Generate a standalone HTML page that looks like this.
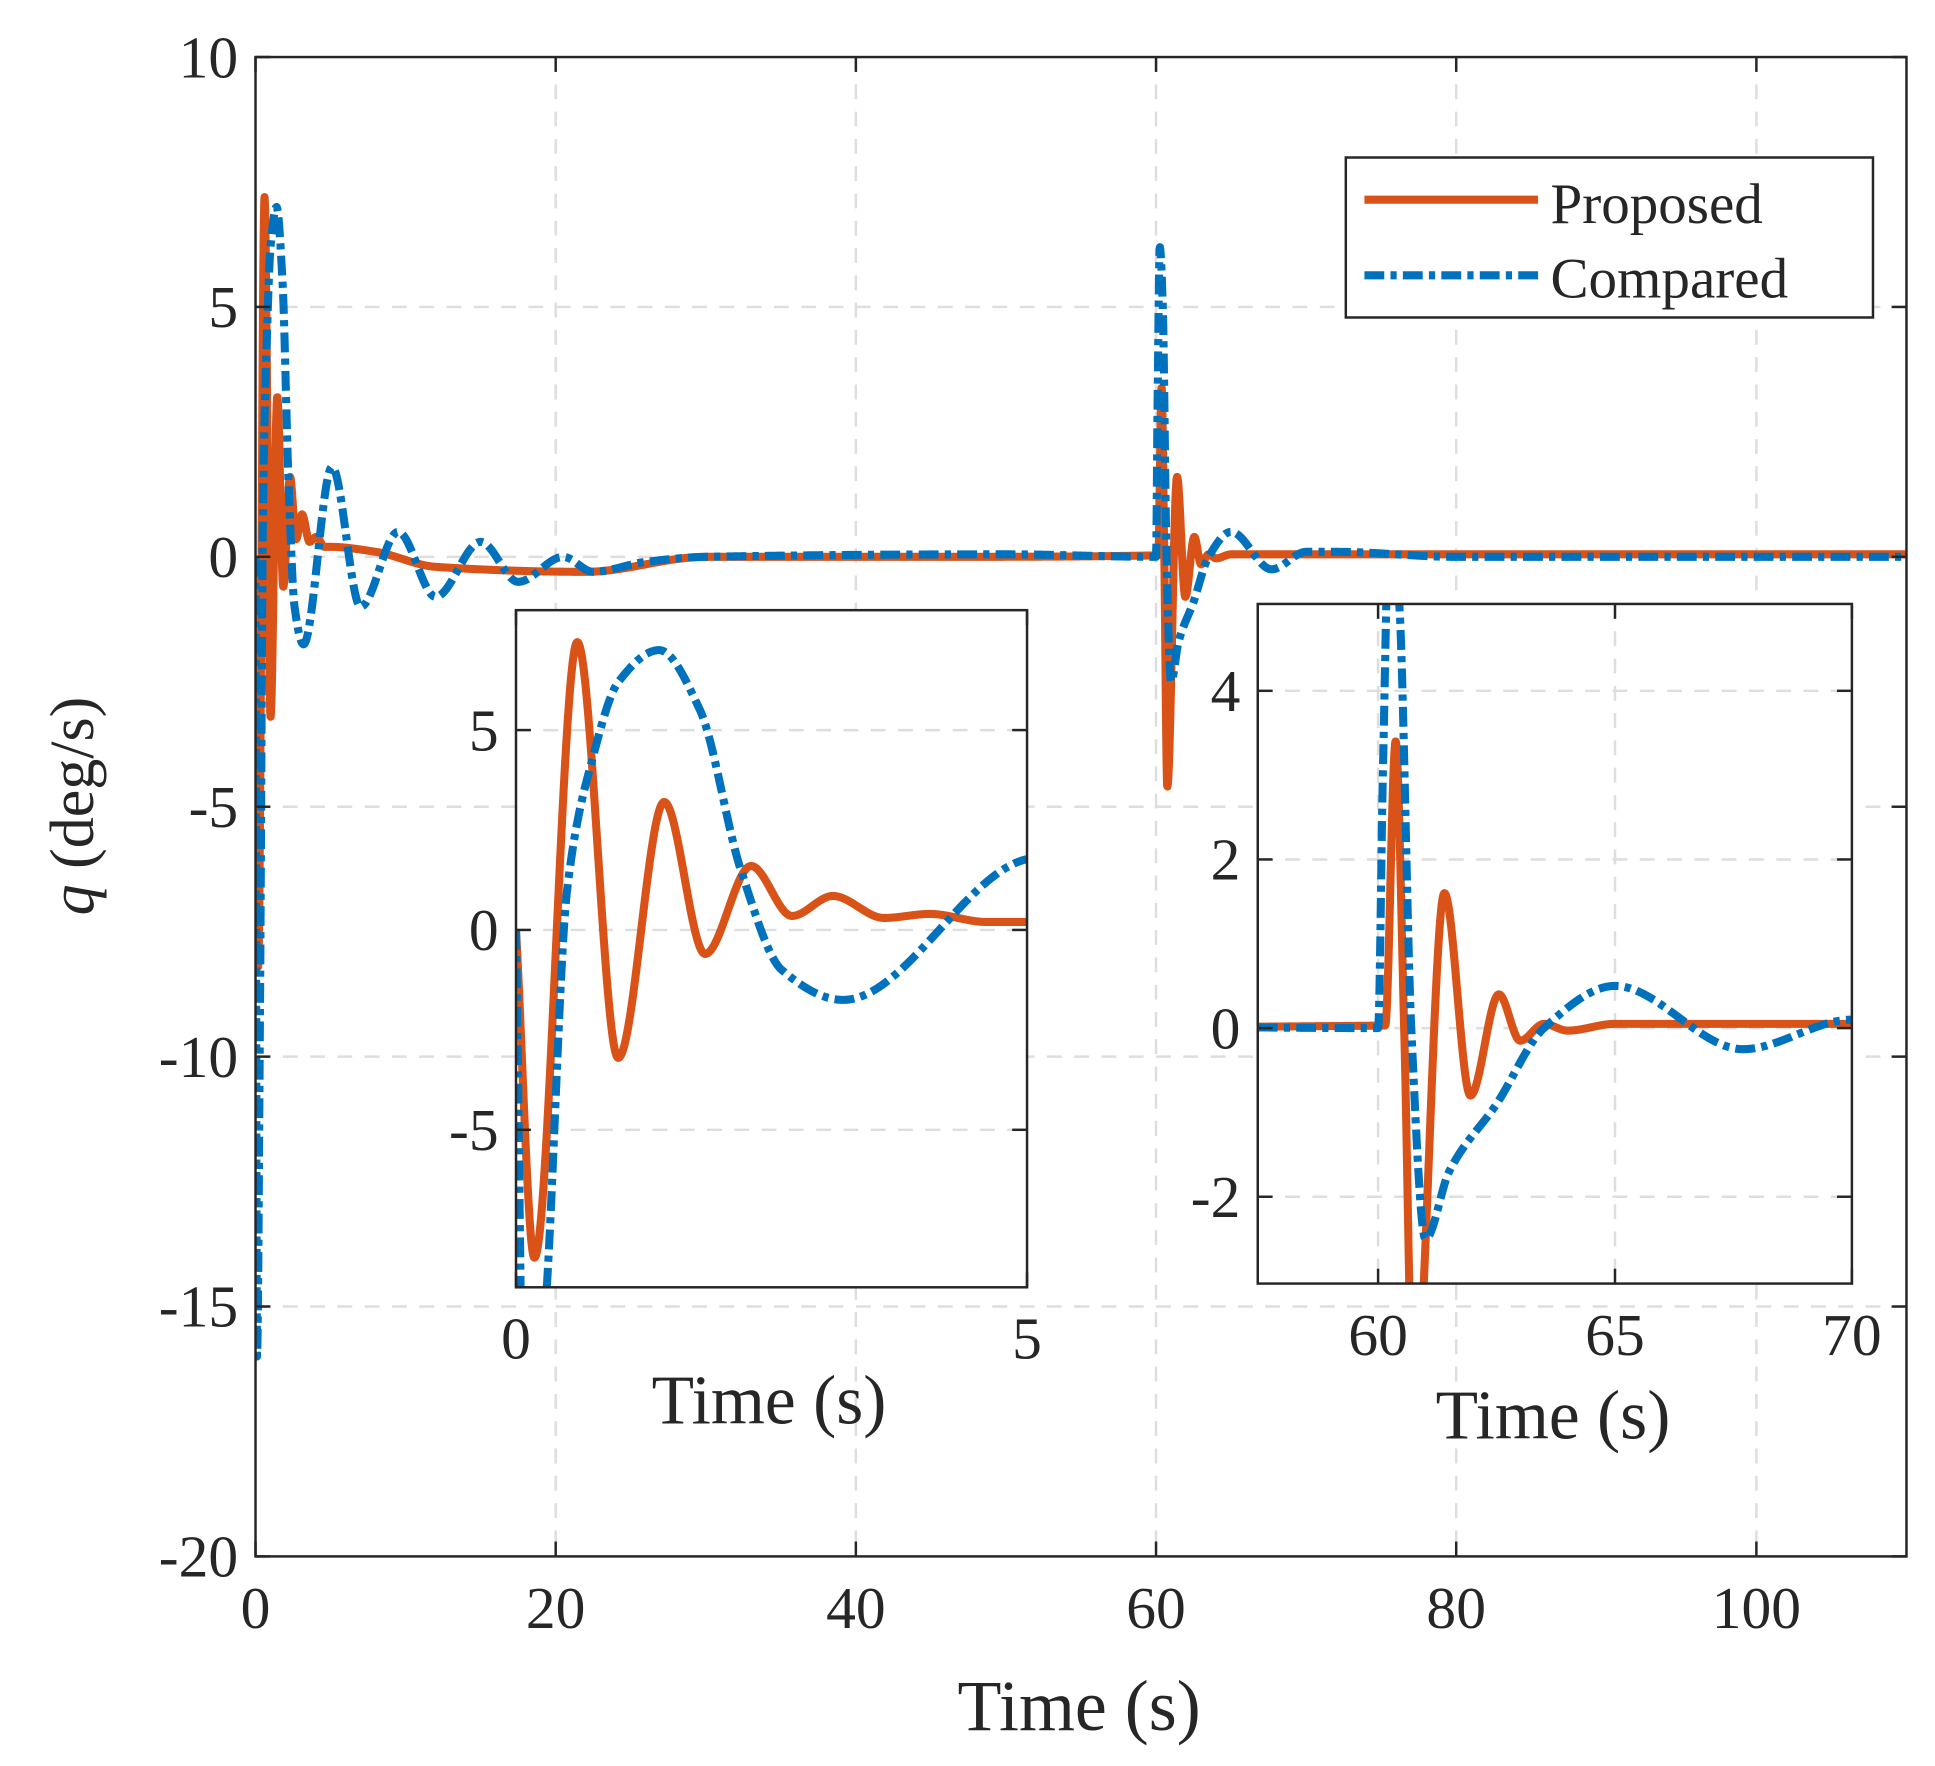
<!DOCTYPE html>
<html><head><meta charset="utf-8">
<style>html,body{margin:0;padding:0;background:#fff}svg{display:block}
text{font-family:"Liberation Serif",serif;fill:#262626}</style></head>
<body>
<svg id="s" width="1935" height="1766" viewBox="0 0 1560 1424" preserveAspectRatio="none" xmlns="http://www.w3.org/2000/svg">
<defs>
<clipPath id="c0"><rect x="206" y="46" width="1331" height="1209"/></clipPath>
<clipPath id="c1"><rect x="416" y="492" width="412" height="546"/></clipPath>
<clipPath id="c2"><rect x="1014" y="487" width="479" height="548"/></clipPath>
</defs>
<rect x="0" y="0" width="1560" height="1424" fill="#fff"/>
<g id="main"></g>
<g id="in1"></g>
<g id="in2"></g>
<!-- legend -->
<rect x="1085" y="127" width="425" height="129" fill="#fff" stroke="#262626" stroke-width="2"/>
<line x1="1100" y1="161" x2="1240" y2="161" stroke="#D95319" stroke-width="6.5"/>
<line x1="1100" y1="222" x2="1240" y2="222" stroke="#0072BD" stroke-width="6.5" stroke-dasharray="16 5 5 5"/>
<text x="1250" y="180" font-size="46">Proposed</text>
<text x="1250" y="240" font-size="46">Compared</text>
<!-- labels -->
<text x="870" y="1395" font-size="58" text-anchor="middle">Time (s)</text>
<text transform="translate(75,650) rotate(-90)" font-size="50" text-anchor="middle"><tspan font-style="italic">q</tspan> (deg/s)</text>
<text x="620" y="1148" font-size="56" text-anchor="middle">Time (s)</text>
<text x="1252" y="1160" font-size="56" text-anchor="middle">Time (s)</text>
</svg>
<script>
function mono(P){var n=P.length,xs=P.map(p=>p[0]),ys=P.map(p=>p[1]),d=[],m=[];
for(var i=0;i<n-1;i++)d.push((ys[i+1]-ys[i])/(xs[i+1]-xs[i]));
m[0]=d[0];m[n-1]=d[n-2];
for(i=1;i<n-1;i++){if(d[i-1]*d[i]<=0)m[i]=0;else{var h0=xs[i]-xs[i-1],h1=xs[i+1]-xs[i];m[i]=3*(h0+h1)/((2*h1+h0)/d[i-1]+(h1+2*h0)/d[i]);}}
return function(t){if(t<=xs[0])return ys[0];if(t>=xs[n-1])return ys[n-1];
var k=0;while(xs[k+1]<t)k++;var h=xs[k+1]-xs[k],s=(t-xs[k])/h,s2=s*s,s3=s2*s;
return (2*s3-3*s2+1)*ys[k]+(s3-2*s2+s)*h*m[k]+(-2*s3+3*s2)*ys[k+1]+(s3-s2)*h*m[k+1];}}
var O=mono([[0,0],[0.18,-8.2],[0.6,7.2],[1.0,-3.2],[1.45,3.2],[1.85,-0.6],[2.3,1.6],[2.7,0.35],[3.1,0.85],[3.6,0.3],[4.05,0.4],[4.6,0.2],[5,0.2],[8,0.1],[12,-0.2],[22,-0.3],[30,0],[45,0],[60.15,0.03],[60.37,3.4],[60.55,0],[60.75,-4.6],[61.4,1.6],[61.95,-0.8],[62.55,0.4],[63.0,-0.15],[63.5,0.05],[64,-0.03],[65,0.05],[80,0.05],[110,0.05]]);
var B=mono([[0,0],[0.1,-16],[0.3,-9],[0.5,1],[0.75,4.3],[1.0,6.2],[1.4,7.0],[1.8,5.5],[2.2,1.5],[2.6,-1.0],[3.2,-1.75],[5.1,1.8],[7,-1.0],[9.5,0.5],[12,-0.8],[15,0.3],[17.5,-0.5],[20.5,0.0],[22.5,-0.3],[26,-0.1],[30,0],[50,0.05],[60,0.0],[60.1,3],[60.25,6.2],[60.45,5],[60.7,0],[61.0,-2.5],[61.5,-1.7],[62.5,-0.9],[63.5,0],[65,0.5],[67.7,-0.25],[70,0.1],[72,0.1],[80,0],[110,0]]);
var NS="http://www.w3.org/2000/svg";
function el(g,tag,a,txt){var e=document.createElementNS(NS,tag);for(var k in a)e.setAttribute(k,a[k]);if(txt!==undefined)e.textContent=txt;g.appendChild(e);return e;}
function axes(id,c,X0,X1,Y0,Y1,px0,px1,py0,py1,xt,yt,fs,step){
 var g=document.getElementById(id);
 var fx=t=>px0+(t-X0)/(X1-X0)*(px1-px0), fy=v=>py1-(v-Y0)/(Y1-Y0)*(py1-py0);
 el(g,'rect',{x:px0,y:py0,width:px1-px0,height:py1-py0,fill:'#fff'});
 xt.forEach(t=>{var x=fx(t);if(x>px0+2&&x<px1-2)el(g,'line',{x1:x,y1:py0,x2:x,y2:py1,stroke:'#dedede','stroke-width':2,'stroke-dasharray':'12 10'});});
 yt.forEach(v=>{var y=fy(v);if(y>py0+2&&y<py1-2)el(g,'line',{x1:px0,y1:y,x2:px1,y2:y,stroke:'#dedede','stroke-width':2,'stroke-dasharray':'12 10'});});
 [[O,'#D95319',null],[B,'#0072BD','16 5 5 5']].forEach(function(s){
  var d='',first=true;for(var t=X0;t<=X1+1e-9;t+=step){d+=(first?'M':'L')+fx(t).toFixed(2)+' '+fy(s[0](t)).toFixed(2);first=false;}
  var a={d:d,fill:'none',stroke:s[1],'stroke-width':6.5,'clip-path':'url(#'+c+')','stroke-linejoin':'round'};if(s[2])a['stroke-dasharray']=s[2];el(g,'path',a);});
 el(g,'rect',{x:px0,y:py0,width:px1-px0,height:py1-py0,fill:'none',stroke:'#262626','stroke-width':2});
 xt.forEach(t=>{var x=fx(t);el(g,'line',{x1:x,y1:py1,x2:x,y2:py1-12,stroke:'#262626','stroke-width':2});el(g,'line',{x1:x,y1:py0,x2:x,y2:py0+12,stroke:'#262626','stroke-width':2});
  el(g,'text',{x:x,y:py1+fs*1.2,'font-size':fs,'text-anchor':'middle'},String(t));});
 yt.forEach(v=>{var y=fy(v);el(g,'line',{x1:px0,y1:y,x2:px0+12,y2:y,stroke:'#262626','stroke-width':2});el(g,'line',{x1:px1,y1:y,x2:px1-12,y2:y,stroke:'#262626','stroke-width':2});
  el(g,'text',{x:px0-14,y:y+fs*0.34,'font-size':fs,'text-anchor':'end'},String(v));});
}
axes('main','c0',0,110,-20,10,206,1537,46,1255,[0,20,40,60,80,100],[10,5,0,-5,-10,-15,-20],48,0.02);
axes('in1','c1',0,5,-8.94,8.0,416,828,492,1038,[0,5],[5,0,-5],48,0.004);
axes('in2','c2',57.46,70,-3.03,5.03,1014,1493,487,1035,[60,65,70],[4,2,0,-2],48,0.004);
</script>
</body></html>
